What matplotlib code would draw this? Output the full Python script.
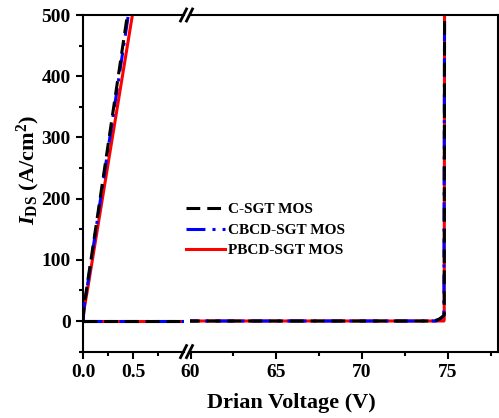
'''
Broken-axis output/blocking characteristics of three SGT MOS devices.
'''

import numpy as np
import matplotlib
matplotlib.use('Agg')
import matplotlib.pyplot as plt

plt.rcParams['font.family'] = 'Liberation Serif'
plt.rcParams['font.weight'] = 'bold'
plt.rcParams['mathtext.fontset'] = 'custom'
plt.rcParams['mathtext.rm'] = 'Liberation Serif:bold'
plt.rcParams['mathtext.it'] = 'Liberation Serif:italic:bold'
plt.rcParams['mathtext.bf'] = 'Liberation Serif:bold'

labels = ['C-SGT MOS', 'CBCD-SGT MOS', 'PBCD-SGT MOS']
colors = ['black', 'blue', 'red']

# on-state curves (low drain voltage)
v_on_c = [0.0, 0.01, 0.05, 0.1, 0.2, 0.3, 0.4, 0.46]
i_on_c = [0, 24, 68, 122, 232, 342, 452, 518]
v_on_cb = [0.0, 0.01, 0.05, 0.1, 0.2, 0.3, 0.4, 0.47]
i_on_cb = [0, 22, 64, 118, 226, 334, 442, 518]
v_on_pb = [0.0, 0.01, 0.05, 0.1, 0.2, 0.3, 0.4, 0.5]
i_on_pb = [0, 18, 56, 106, 206, 306, 406, 506]

# blocking curves (breakdown near 75 V)
v_off_c = [0.0, 74.2, 74.5, 74.7, 74.8, 74.82]
i_off_c = [0, 0, 3, 7, 10, 520]
v_off_cb = [0.0, 74.3, 74.6, 74.78, 74.82]
i_off_cb = [0, 0, 4, 9, 520]
v_off_pb = [0.0, 74.78, 74.8, 74.82]
i_off_pb = [0, 0, 2, 520]

W, H = 499, 418
fig = plt.figure(figsize=(W / 100, H / 100), dpi=100)
bot = 1 - 351.6 / H
top = 1 - 15 / H
ax1 = fig.add_axes([83 / W, bot, (184 - 83) / W, top - bot])
ax2 = fig.add_axes([190 / W, bot, (497.7 - 190) / W, top - bot])

dash_c = (4.5, 2.3)
dash_cb = (6.2, 2.3, 1.0, 2.3)
lw = 2.2

for ax in (ax1, ax2):
    # red at the bottom, black on top
    ax.plot(v_on_pb, i_on_pb, color='red', lw=lw, zorder=2)
    ax.plot(v_off_pb, i_off_pb, color='red', lw=lw, zorder=2)
    ax.plot(v_on_cb, i_on_cb, color='blue', lw=lw, dashes=dash_cb, zorder=3)
    ax.plot(v_off_cb, i_off_cb, color='blue', lw=lw, dashes=dash_cb, zorder=3)
    ax.plot(v_on_c, i_on_c, color='black', lw=lw, dashes=dash_c, zorder=4)
    ax.plot(v_off_c, i_off_c, color='black', lw=lw, dashes=dash_c, zorder=4)
    ax.set_ylim(-50, 500)
    for s in ax.spines.values():
        s.set_linewidth(1.5)
    ax.tick_params(which='major', length=5, width=1.5, labelsize=14, pad=4)
    ax.tick_params(which='minor', length=3, width=1.5)

ax1.set_xlim(0, 1.01)
ax1.set_xticks([0.0, 0.5])
ax1.set_xticklabels(['0.0', '0.5'])
ax1.set_xticks([0.25, 0.75], minor=True)
ax1.set_yticks(np.arange(0, 501, 100))
ax1.set_yticks(np.arange(-50, 500, 100), minor=True)
ax1.spines['right'].set_visible(False)

ax2.set_xlim(59.97, 77.92)
ax2.set_xticks([60, 65, 70, 75])
ax2.set_xticks([62.5, 67.5, 72.5, 77.5], minor=True)
ax2.spines['left'].set_visible(False)
ax2.tick_params(axis='y', which='both', left=False, labelleft=False)

# break marks on top and bottom spines
for yb in (15, 351.6):
    for xb in (183.5, 189.5):
        fig.add_artist(plt.Line2D([(xb - 3) / W, (xb + 3) / W],
                                  [1 - (yb + 6) / H, 1 - (yb - 6) / H],
                                  color='black', lw=2))
    fig.add_artist(plt.Line2D([185 / W, 188 / W], [1 - yb / H, 1 - yb / H],
                              color='white', lw=3, zorder=0))

handles = [plt.Line2D([], [], color='black', lw=lw, dashes=dash_c),
           plt.Line2D([], [], color='blue', lw=lw, dashes=dash_cb),
           plt.Line2D([], [], color='red', lw=lw)]
fig.legend(handles, labels, loc='center left',
           bbox_to_anchor=(186 / W, 1 - 230 / H), frameon=False,
           prop={'size': 11, 'weight': 'bold'}, handlelength=2.55,
           handletextpad=0.2, labelspacing=0.45, borderpad=0, borderaxespad=0)

fig.text(291 / W, 1 - 403 / H, 'Drian Voltage (V)', ha='center', va='center',
         fontsize=16, fontweight='bold')
fig.text(28 / W, 1 - 170 / H, r'$I_{\mathrm{DS}}$ (A/cm$^{\mathrm{2}}$)',
         ha='center', va='center', rotation=90, fontsize=16, fontweight='bold')

fig.savefig('out.png', dpi=100)
plt.close()
